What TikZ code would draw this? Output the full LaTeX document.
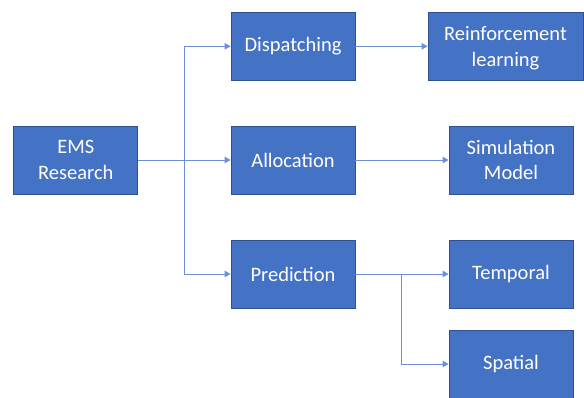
\documentclass[tikz,border=0pt]{standalone}
\usepackage{fontspec}
\setmainfont{Carlito}
\usetikzlibrary{arrows.meta}
\definecolor{boxfill}{HTML}{4472C4}
\definecolor{boxedge}{HTML}{2F528F}
\definecolor{linkcol}{HTML}{6F8FD4}
\tikzset{
  blk/.style={draw=boxedge, line width=0.8pt, fill=boxfill, text=white,
    minimum width=124pt, minimum height=68pt, inner sep=0pt, align=center,
    font=\fontsize{20.5}{25.5}\selectfont},
  link/.style={draw=linkcol, line width=0.9pt, -{Triangle[length=6pt,width=6.5pt]}},
  plain/.style={draw=linkcol, line width=0.9pt}
}
\begin{document}
\begin{tikzpicture}[x=1pt,y=1pt]
\useasboundingbox (0,0) rectangle (584,-397);
\node[blk] (ems) at (75.8,-160) {EMS\\Research};
\node[blk] (disp) at (293,-46.3) {Dispatching};
\node[blk] (alloc) at (293,-160) {Allocation};
\node[blk] (pred) at (293,-274) {Prediction};
\node[blk, minimum width=155pt] (rl) at (505.5,-46.3) {Reinforcement\\learnin\smash{g}};
\node[blk] (sim) at (511,-160) {Simulation\\Model};
\node[blk] (temp) at (511,-274) {Temporal};
\node[blk] (spat) at (511,-364) {Spatial};
\coordinate (j) at (184.3,-160);
\coordinate (b) at (401.7,-274);
\draw[link] (ems) -- (alloc);
\draw[link] (j) |- (disp.west);
\draw[link] (j) |- (pred.west);
\draw[link] (disp) -- (rl);
\draw[link] (alloc) -- (sim);
\draw[link] (pred) -- (temp);
\draw[link] (b) |- (spat.west);
\end{tikzpicture}
\end{document}
